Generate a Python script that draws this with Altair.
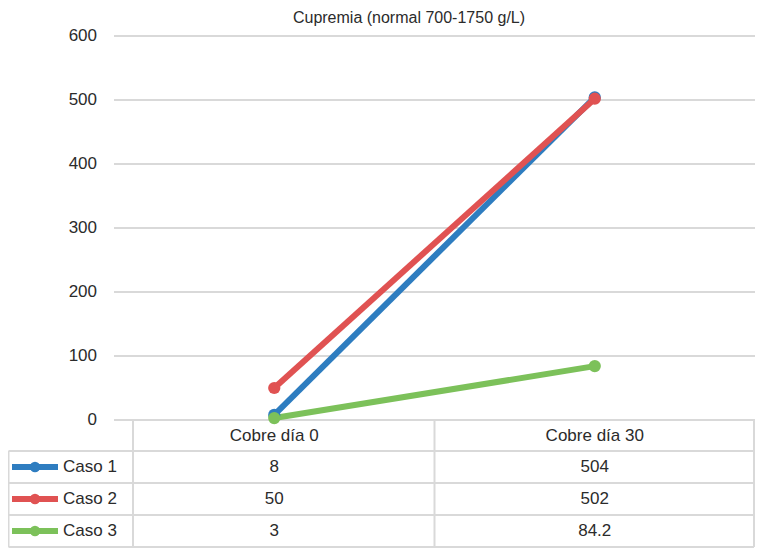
import altair as alt
import pandas as pd

# ---- data ----
series = ["Caso 1", "Caso 2", "Caso 3"]
categories = ["Cobre día 0", "Cobre día 30"]
dia0 = [8, 50, 3]
dia30 = [504, 502, 84.2]
y_ticks = [0, 100, 200, 300, 400, 500, 600]
colors = ["#2E7DC0", "#E05252", "#7CC15A"]
title_text = "Cupremia (normal 700-1750 g/L)"

# ---- layout (pixels, plot-area coordinates) ----
W, H = 641, 384
ROW0, ROWH = 431, 32          # centre of first table row, row height
HEADER_Y = 399.5
FONT = "Liberation Sans"
TXT = "#2b2b2b"
GRID = "#d9d9d9"

rows = []
for i, s in enumerate(series):
    for c, v in zip(categories, (dia0[i], dia30[i])):
        rows.append({"serie": s, "categoria": c, "valor": v,
                     "label": f"{v:g}", "row_y": ROW0 + ROWH * i})
df = pd.DataFrame(rows)
leg = pd.DataFrame({"serie": series, "row_y": [ROW0 + ROWH * i for i in range(len(series))]})
hdr = pd.DataFrame({"categoria": categories})
ticks = pd.DataFrame({"tick": y_ticks})

# table border lines
n = len(series)
bottom = HEADER_Y + 15.5 + ROWH * n
lines = []
for k in range(n + 1):
    y = HEADER_Y + 15.5 + ROWH * k
    lines.append({"x": -105.5, "x2": W - 1, "y": y, "y2": y})
for x in (19, W / 2, W - 1):
    lines.append({"x": x, "x2": x, "y": H, "y2": bottom})
lines.append({"x": -105.5, "x2": -105.5, "y": HEADER_Y + 15.5, "y2": bottom})
lines_df = pd.DataFrame(lines)

xscale = alt.Scale(type="point", domain=categories, padding=0.5)
yscale = alt.Scale(domain=[0, 600])
cscale = alt.Scale(domain=series, range=colors)

table_lines = alt.Chart(lines_df).mark_rule(color=GRID, strokeWidth=2).encode(
    x=alt.X("x:Q", scale=None), x2="x2:Q",
    y=alt.Y("y:Q", scale=None), y2="y2:Q",
)
gridlines = alt.Chart(ticks).mark_rule(color=GRID, strokeWidth=2).encode(
    x=alt.value(0), x2=alt.value(W),
    y=alt.Y("tick:Q", scale=yscale, axis=None),
)
ticklabels = alt.Chart(ticks).mark_text(fontSize=17, font=FONT, color=TXT,
                                        align="right", baseline="middle").encode(
    x=alt.value(-17),
    y=alt.Y("tick:Q", scale=yscale, axis=None),
    text="tick:N",
)

line = alt.Chart(df).mark_line(strokeWidth=6).encode(
    x=alt.X("categoria:N", scale=xscale, axis=None),
    y=alt.Y("valor:Q", scale=yscale, axis=None),
    color=alt.Color("serie:N", scale=cscale, legend=None),
)
points = alt.Chart(df).mark_circle(size=150, opacity=1).encode(
    x=alt.X("categoria:N", scale=xscale, axis=None),
    y=alt.Y("valor:Q", scale=yscale, axis=None),
    color=alt.Color("serie:N", scale=cscale, legend=None),
)

header = alt.Chart(hdr).mark_text(fontSize=17, font=FONT, color=TXT, baseline="middle").encode(
    x=alt.X("categoria:N", scale=xscale, axis=None),
    y=alt.value(HEADER_Y),
    text="categoria:N",
)
values = alt.Chart(df).mark_text(fontSize=17, font=FONT, color=TXT, baseline="middle").encode(
    x=alt.X("categoria:N", scale=xscale, axis=None),
    y=alt.Y("row_y:Q", scale=None),
    text="label:N",
)
leg_line = alt.Chart(leg).mark_rule(strokeWidth=6).encode(
    x=alt.value(-102), x2=alt.value(-56),
    y=alt.Y("row_y:Q", scale=None),
    color=alt.Color("serie:N", scale=cscale, legend=None),
)
leg_pt = alt.Chart(leg).mark_circle(size=110, opacity=1).encode(
    x=alt.value(-79),
    y=alt.Y("row_y:Q", scale=None),
    color=alt.Color("serie:N", scale=cscale, legend=None),
)
leg_txt = alt.Chart(leg).mark_text(fontSize=17, font=FONT, color=TXT, align="left", baseline="middle").encode(
    x=alt.value(-51),
    y=alt.Y("row_y:Q", scale=None),
    text="serie:N",
)
title = alt.Chart(pd.DataFrame({"t": [title_text]})).mark_text(
    fontSize=16, font=FONT, color=TXT, baseline="middle", align="center").encode(
    x=alt.value(295), y=alt.value(-18), text="t:N")

chart = alt.layer(table_lines, gridlines, ticklabels, line, points, header, values,
                  leg_line, leg_pt, leg_txt, title).properties(
    width=W, height=H,
    padding={"left": 106, "top": 28, "right": 0, "bottom": 128},
    autosize=alt.AutoSizeParams(type="none"),
).configure_view(stroke=None)

chart.save("out.html", embed_options={"renderer": "svg", "actions": False})
